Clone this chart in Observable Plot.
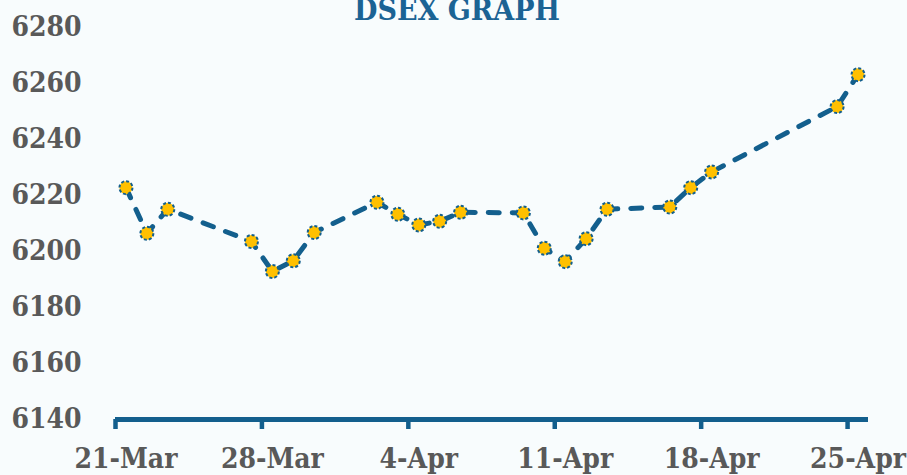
<!DOCTYPE html>
<html>
<head>
<meta charset="utf-8">
<script src="https://cdn.jsdelivr.net/npm/d3@7"></script>
<script src="https://cdn.jsdelivr.net/npm/@observablehq/plot@0.6"></script>
<style>
  html, body { margin: 0; padding: 0; background: #F8FCFD; overflow: hidden; }
  #chart svg { display: block; }
</style>
</head>
<body>
<div id="chart"></div>
<script>
const title = "DSEX GRAPH";
const dates = ["2023-03-21","2023-03-22","2023-03-23","2023-03-27","2023-03-28","2023-03-29","2023-03-30",
  "2023-04-02","2023-04-03","2023-04-04","2023-04-05","2023-04-06","2023-04-09","2023-04-10","2023-04-11",
  "2023-04-12","2023-04-13","2023-04-16","2023-04-17","2023-04-18","2023-04-24","2023-04-25"];
const values = [6222.7,6206.4,6215.0,6203.5,6192.8,6196.6,6206.7,
  6217.5,6213.2,6209.4,6210.7,6213.9,6213.7,6201.1,6196.3,
  6204.5,6215.0,6215.8,6222.7,6228.3,6251.6,6263.0];
const tickDates = ["2023-03-21","2023-03-28","2023-04-04","2023-04-11","2023-04-18","2023-04-25"];
const tickLabels = ["21-Mar","28-Mar","4-Apr","11-Apr","18-Apr","25-Apr"];
const yTicks = [6140,6160,6180,6200,6220,6240,6260,6280];

const HALF = 12 * 3600 * 1000;
const data = dates.map((d, i) => ({date: new Date(new Date(d).getTime() + HALF), value: values[i]}));
const ticks = tickDates.map(d => new Date(d));
const labels = tickDates.map((d, i) => ({date: new Date(new Date(d).getTime() + HALF), label: tickLabels[i]}));

const blue = "#135F8D";
const grey = "#595959";
const font = "'DejaVu Serif Condensed', 'DejaVu Serif', serif";

const chart = Plot.plot({
  width: 907,
  height: 475,
  marginLeft: 115,
  marginRight: 39,
  marginTop: 26.5,
  marginBottom: 56,
  style: {background: "transparent", fontFamily: font, overflow: "visible"},
  x: {type: "utc", domain: [new Date("2023-03-21"), new Date("2023-04-26")], axis: null},
  y: {domain: [6140, 6280], axis: null},
  marks: [
    Plot.text(yTicks, {y: d => d, text: d => String(d), frameAnchor: "left", dx: -34, textAnchor: "end",
      fontSize: 28, fontWeight: "bold", fill: grey, fontStretch: "condensed"}),
    Plot.text(labels, {x: "date", text: "label", frameAnchor: "bottom", dy: 40, lineAnchor: "middle",
      fontSize: 28, fontWeight: "bold", fill: grey, fontStretch: "condensed"}),
    Plot.axisX(ticks, {tickSize: 10, stroke: blue, strokeWidth: 4.5, tickFormat: () => "", strokeLinecap: "butt"}),
    Plot.ruleY([6140], {stroke: blue, strokeWidth: 5}),
    Plot.line(data, {x: "date", y: "value", stroke: blue, strokeWidth: 5, strokeDasharray: "11,13",
      strokeLinecap: "round", strokeLinejoin: "round"}),
    Plot.dot(data, {x: "date", y: "value", r: 6.5, fill: "#FFC000", stroke: blue, strokeWidth: 2,
      strokeDasharray: "3,2"}),
    Plot.text([title], {frameAnchor: "top", dx: -35, dy: -7.5, lineAnchor: "bottom", fontSize: 30,
      fontWeight: "bold", fill: "#1B6394", fontStretch: "condensed"})
  ]
});
document.getElementById("chart").appendChild(chart);
</script>
</body>
</html>
